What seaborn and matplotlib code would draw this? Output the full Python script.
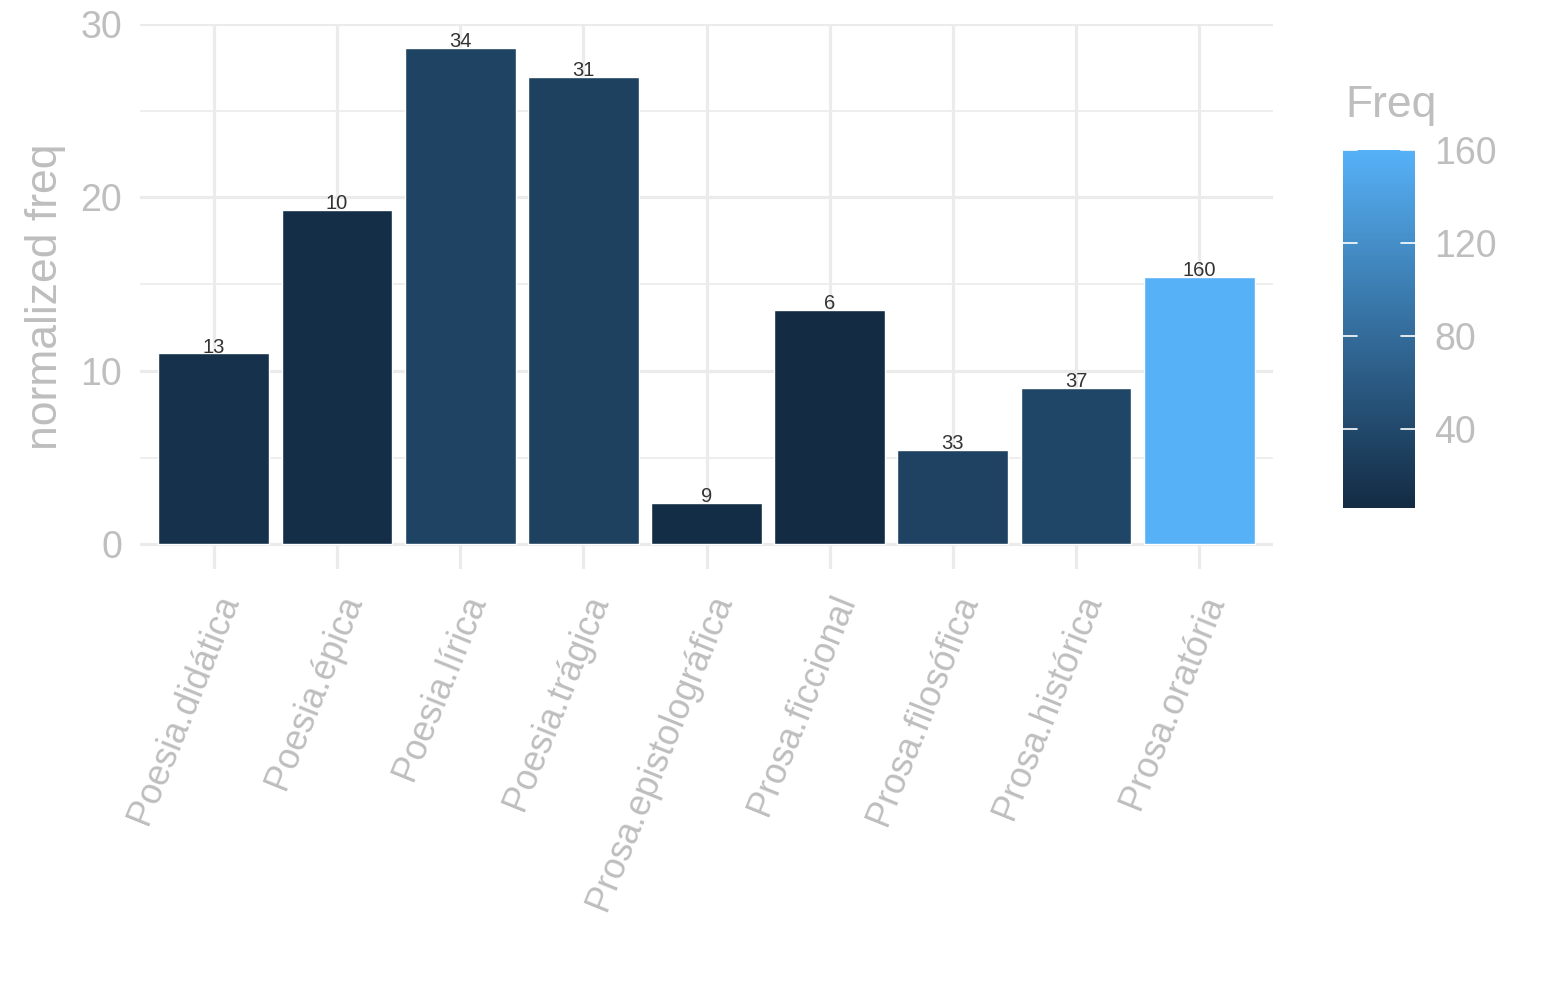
import matplotlib
matplotlib.use("Agg")
import matplotlib.pyplot as plt
import matplotlib.colors as mcolors
import matplotlib.cm as cm
import numpy as np
import seaborn as sns

# genre, normalized frequency (bar height) and raw Freq (label + colour)
generos = ['Poesia.didática', 'Poesia.épica', 'Poesia.lírica', 'Poesia.trágica',
           'Prosa.epistolográfica', 'Prosa.ficcional', 'Prosa.filosófica',
           'Prosa.histórica', 'Prosa.oratória']
norm_freq = [11.0, 19.3, 28.6, 26.95, 2.37, 13.5, 5.42, 9.0, 15.4]
freq = [13, 10, 34, 31, 9, 6, 33, 37, 160]
cbar_ticks = [40, 80, 120, 160]

sns.set_style("white")
plt.rcParams['font.family'] = ['Liberation Sans', 'DejaVu Sans']
grey = '#BEBEBE'

# ggplot-like continuous gradient
cmap = mcolors.LinearSegmentedColormap.from_list('gg', ['#132B43', '#56B1F7'])
norm = mcolors.Normalize(vmin=min(freq), vmax=max(freq))

fig = plt.figure(figsize=(15.45, 10), dpi=100)
ax = fig.add_axes([140/1545, 1 - 569/1000, (1273-140)/1545, (569-23.5)/1000])

sns.barplot(x=generos, y=norm_freq, hue=freq, palette=cmap, hue_norm=norm,
            dodge=False, width=0.9, legend=False, saturation=1, ax=ax, zorder=3)

for i, (v, f) in enumerate(zip(norm_freq, freq)):
    ax.text(i, v + 0.05, str(f), ha='center', va='baseline', fontsize=14.5,
            color='#333333', zorder=4)

ax.set_xlim(-0.6, len(generos) - 0.4)
ax.set_ylim(-1.43, 30.03)
ax.set_yticks([0, 10, 20, 30])
ax.set_yticks([5, 15, 25], minor=True)
ax.grid(True, which='major', color='#EBEBEB', lw=2.3, zorder=0)
ax.grid(True, which='minor', axis='y', color='#EBEBEB', lw=1.2, zorder=0)
ax.set_axisbelow(True)
for s in ax.spines.values():
    s.set_visible(False)

ax.tick_params(axis='both', which='both', length=0, labelsize=27, labelcolor=grey)
ax.tick_params(axis='y', pad=13)
ax.tick_params(axis='x', labelsize=26, pad=15)
plt.setp(ax.get_xticklabels(), rotation=68, ha='right', va='top',
         rotation_mode='anchor')
ax.set_xlabel('')
ax.set_ylabel('normalized freq', fontsize=32, color=grey, labelpad=10)

# colour bar legend
cax = fig.add_axes([1343/1545, 1 - 508/1000, 72/1545, 358/1000])
sm = cm.ScalarMappable(norm=norm, cmap=cmap)
cb = fig.colorbar(sm, cax=cax, ticks=cbar_ticks)
cb.outline.set_visible(False)
cax.tick_params(length=0, labelsize=27, labelcolor=grey, pad=14)
for t in cbar_ticks:
    cax.plot([0, 0.2], [t, t], color='white', lw=1.2, transform=cax.get_yaxis_transform())
    cax.plot([0.8, 1], [t, t], color='white', lw=1.2, transform=cax.get_yaxis_transform())
fig.text(1345/1545, 1 - 105/1000, 'Freq', fontsize=32, color=grey, va='center', ha='left')

fig.savefig('out.png', dpi=100)
